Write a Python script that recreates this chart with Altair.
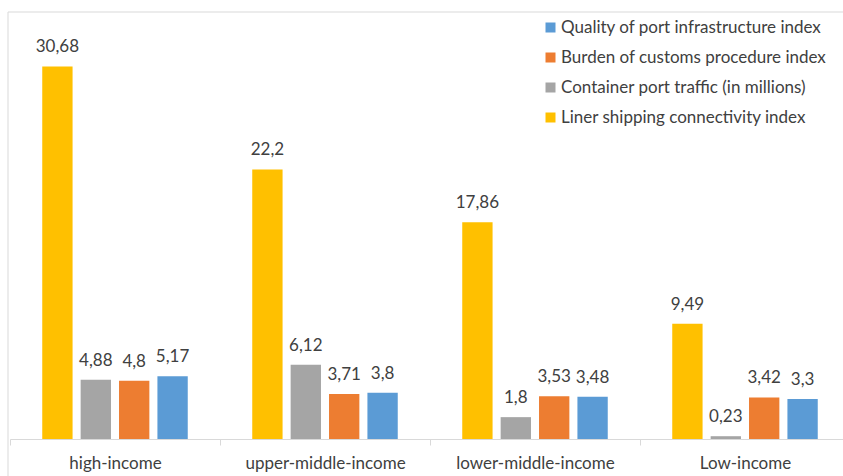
import altair as alt
import pandas as pd

categories = ["high-income", "upper-middle-income", "lower-middle-income", "Low-income"]
series = [
    "Liner shipping connectivity index",
    "Container port traffic (in millions)",
    "Burden of customs procedure index",
    "Quality of port infrastructure index",
]
liner = [30.68, 22.2, 17.86, 9.49]
container = [4.88, 6.12, 1.8, 0.23]
burden = [4.8, 3.71, 3.53, 3.42]
quality = [5.17, 3.8, 3.48, 3.3]

legend_order = [series[3], series[2], series[1], series[0]]
colors = {series[0]: "#FFC000", series[1]: "#A5A5A5", series[2]: "#ED7D31", series[3]: "#5B9BD5"}

rows = []
for s, vals in zip(series, [liner, container, burden, quality]):
    for c, v in zip(categories, vals):
        rows.append({"category": c, "series": s, "value": v,
                     "label": ("%g" % v).replace(".", ",")})
df = pd.DataFrame(rows)

FONT = "Lato"
TXT = "#404040"

x = alt.X("category:N", sort=categories, title=None,
          scale=alt.Scale(range=[0, 840], paddingInner=0, paddingOuter=0),
          axis=alt.Axis(labelAngle=0, labelFont=FONT, labelFontSize=17, labelColor=TXT,
                        labelPadding=10, domainColor="#d9d9d9", tickColor="#d9d9d9",
                        tickSize=6, tickBand="extent"))
xo = alt.XOffset("series:N", sort=series,
                 scale=alt.Scale(paddingInner=0.21, paddingOuter=0.84))
y = alt.Y("value:Q", scale=alt.Scale(domain=[0, 35], nice=False), axis=None)

bars = alt.Chart(df).mark_bar().encode(
    x=x, xOffset=xo, y=y,
    color=alt.Color("series:N", sort=legend_order,
                    scale=alt.Scale(domain=legend_order, range=[colors[s] for s in legend_order]),
                    legend=alt.Legend(title=None, orient="none", legendX=532, legendY=5,
                                      labelFont=FONT, labelFontSize=17, labelColor=TXT,
                                      symbolType="square", symbolSize=100, symbolStrokeWidth=0,
                                      rowPadding=12, labelOffset=2, labelLimit=400)),
)

labels = alt.Chart(df).mark_text(baseline="bottom", dy=-10, font=FONT, fontSize=17, color=TXT).encode(
    x=x, xOffset=xo, y=y, text="label:N"
)

border_top = alt.Chart(pd.DataFrame({"a": [0]})).mark_rule(color="#d9d9d9", strokeWidth=1).encode(
    x=alt.value(-2), x2=alt.value(840), y=alt.value(-2)
)
border_left = alt.Chart(pd.DataFrame({"a": [0]})).mark_rule(color="#d9d9d9", strokeWidth=1).encode(
    x=alt.value(-2), y=alt.value(-2), y2=alt.value(470)
)

chart = alt.layer(border_top, border_left, bars, labels).properties(
    width=833, height=425,
    autosize=alt.AutoSizeParams(type="none"),
    padding={"left": 10, "top": 14, "right": 0, "bottom": 37},
).configure_view(stroke=None)

chart.save("out.html", embed_options={"renderer": "svg", "actions": False})
